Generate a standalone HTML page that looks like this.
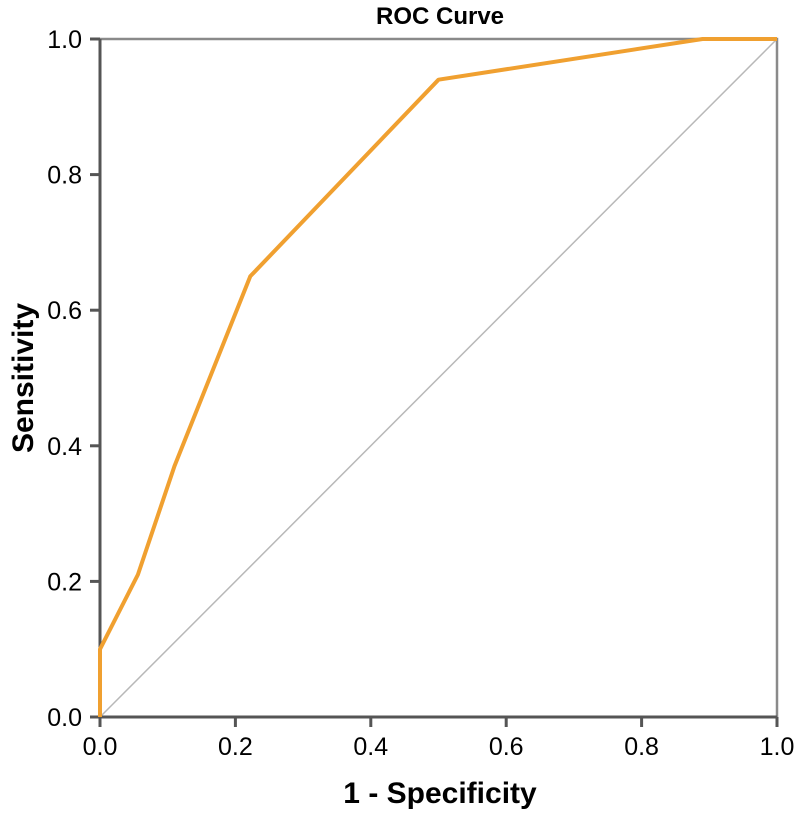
<!DOCTYPE html>
<html><head><meta charset="utf-8"><style>
body{margin:0;background:#fff;width:800px;height:810px;overflow:hidden}
svg{font-family:"Liberation Sans",Arial,sans-serif}
</style></head><body>
<svg id="chart" width="800" height="810">
<text x="440" y="24" text-anchor="middle" font-weight="bold" font-size="24">ROC Curve</text>
<text x="440" y="803" text-anchor="middle" font-weight="bold" font-size="30">1 - Specificity</text>
<text transform="translate(33,378) rotate(-90)" text-anchor="middle" font-weight="bold" font-size="30">Sensitivity</text>
<g id="g"></g>
</svg>
<script>
const fprValues=[0,0,0.056,0.11,0.222,0.5,0.89,1];
const tprValues=[0,0.1,0.21,0.37,0.65,0.94,1,1];
const tickValues=[0,0.2,0.4,0.6,0.8,1.0];
const tickLabels=["0.0","0.2","0.4","0.6","0.8","1.0"];
const x0=100,x1=777,y0=717,y1=39;
const sx=v=>x0+v*(x1-x0), sy=v=>y0-v*(y0-y1);
const g=document.getElementById('g'),NS='http://www.w3.org/2000/svg';
function mk(t,a){const e=document.createElementNS(NS,t);for(const k in a)e.setAttribute(k,a[k]);g.appendChild(e);return e;}
let e=mk('line',{x1:sx(0),y1:sy(0),x2:sx(1),y2:sy(1),stroke:'#b8b8b8','stroke-width':1.5});


e=mk('path',{d:`M${x0},${y1}H${x1}V${y0}`,fill:'none',stroke:'#8a8a8a','stroke-width':2.5});


e=mk('line',{x1:x0,y1:y1,x2:x0,y2:y0,stroke:'#555','stroke-width':3});


e=mk('line',{x1:x0-10,y1:y0,x2:x1,y2:y0,stroke:'#555','stroke-width':3});


tickValues.forEach((v,i)=>{
 let t=mk('line',{x1:sx(v),y1:y0,x2:sx(v),y2:y0+10,stroke:'#555','stroke-width':3});
 
 
 t=mk('text',{x:sx(v),y:y0+38,'text-anchor':'middle','font-size':25});t.textContent=tickLabels[i];
 
 
 t=mk('line',{x1:x0-10,y1:sy(v),x2:x0,y2:sy(v),stroke:'#555','stroke-width':3});
 
 
 t=mk('text',{x:x0-18,y:sy(v)+9,'text-anchor':'end','font-size':25});t.textContent=tickLabels[i];
 
 
});
e=mk('polyline',{points:fprValues.map((v,i)=>sx(v)+','+sy(tprValues[i])).join(' '),fill:'none',stroke:'#f0a030','stroke-width':4,'stroke-linejoin':'round'});


</script>
</body></html>
